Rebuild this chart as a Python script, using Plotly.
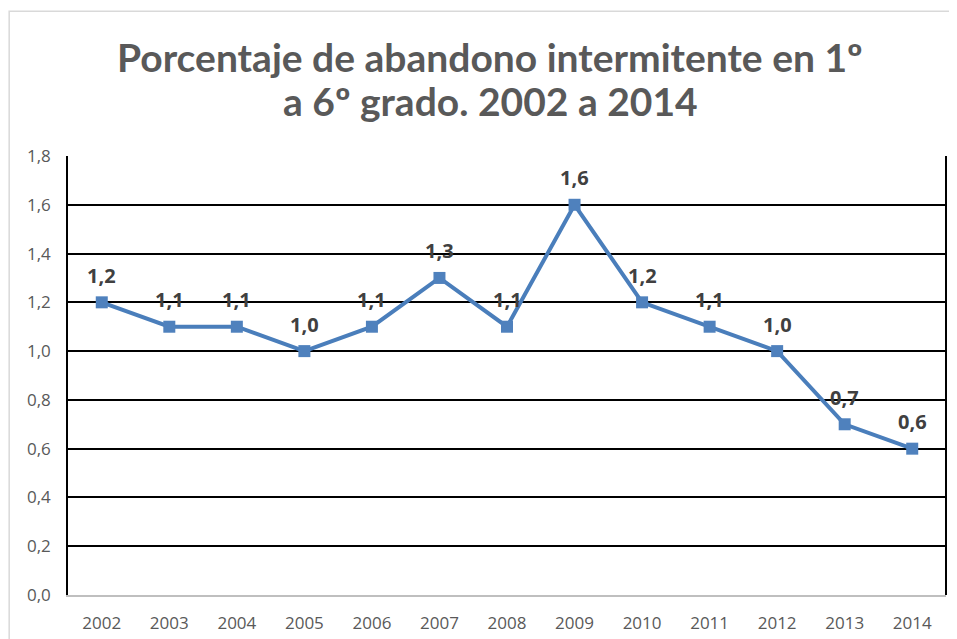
import plotly.graph_objects as go

years = ["2002", "2003", "2004", "2005", "2006", "2007", "2008",
         "2009", "2010", "2011", "2012", "2013", "2014"]
abandono = [1.2, 1.1, 1.1, 1.0, 1.1, 1.3, 1.1, 1.6, 1.2, 1.1, 1.0, 0.7, 0.6]
y_ticks = [0.0, 0.2, 0.4, 0.6, 0.8, 1.0, 1.2, 1.4, 1.6, 1.8]
titulo = ["Porcentaje de abandono intermitente en 1º",
          "a 6º grado. 2002 a 2014"]


def coma(v):
    return f"{v:.1f}".replace(".", ",")


fig = go.Figure()
fig.add_trace(go.Scatter(
    x=years,
    y=abandono,
    mode="lines+markers",
    line=dict(color="#4A7EBB", width=4),
    marker=dict(symbol="square", size=12, color="#4F81BD"),
    cliponaxis=False,
    showlegend=False,
))

# etiquetas de datos encima de cada punto (x por indice de categoria)
for i, v in enumerate(abandono):
    fig.add_annotation(
        x=i, y=v, xref="x", yref="y", text=coma(v), showarrow=False,
        yshift=27, xanchor="center", yanchor="middle",
        font=dict(family="Open Sans", size=20, color="#404040", weight="bold"),
    )

# titulo en dos lineas
for linea, ypos in zip(titulo, [1.2244, 1.1264]):
    fig.add_annotation(
        x=0.481, y=ypos, xref="paper", yref="paper", text=linea,
        showarrow=False, xanchor="center", yanchor="middle",
        font=dict(family="Lato", size=39, color="#595959", weight="bold"),
    )

fig.update_layout(
    width=949, height=631,
    paper_bgcolor="white", plot_bgcolor="white",
    margin=dict(l=60, r=11, t=148, b=44, autoexpand=False),
    xaxis=dict(
        type="category", range=[-0.5, 12.5], automargin=False,
        showgrid=False, showline=True, linecolor="#BFBFBF", linewidth=1.5,
        mirror=False, ticks="",
        tickfont=dict(family="Open Sans", size=17, color="#595959"),
        ticklabelstandoff=12,
    ),
    yaxis=dict(
        range=[0, 1.8], tickvals=y_ticks, automargin=False,
        ticktext=[coma(v) for v in y_ticks],
        showgrid=True, gridcolor="black", gridwidth=1.5,
        showline=True, linecolor="black", linewidth=1.5,
        zeroline=False, ticks="",
        tickfont=dict(family="Open Sans", size=17, color="#595959"),
        ticklabelstandoff=12,
    ),
    shapes=[
        dict(type="line", xref="paper", yref="paper", x0=1, x1=1, y0=0, y1=1,
             line=dict(color="black", width=2)),
        dict(type="rect", xref="paper", yref="paper",
             x0=-0.067, x1=1.2, y0=-0.2, y1=1.330,
             line=dict(color="#D9D9D9", width=1.5), layer="below"),
    ],
)

fig.write_html("out.html")
